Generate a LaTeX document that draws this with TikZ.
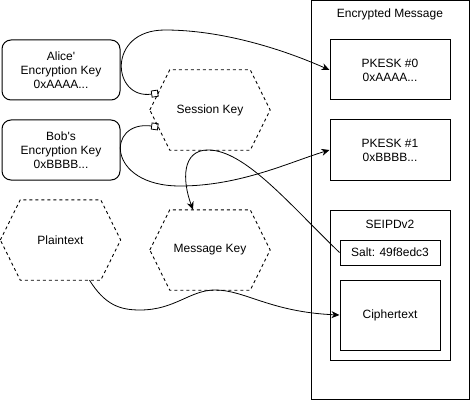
\documentclass[tikz,border=0pt]{standalone}
\usepackage{fontspec}
\setmainfont{Liberation Sans}
\usepackage{xcolor}
\usepackage{tikz}
\usetikzlibrary{positioning, arrows.meta, calc}
\definecolor{ink}{HTML}{000000}
\definecolor{paper}{HTML}{FFFFFF}
\tikzset{
  keybox/.style   = {rectangle, rounded corners=9pt, draw=ink, line width=1pt,
                     fill=paper, minimum width=118pt, minimum height=60pt,
                     align=center, font=\fontsize{12}{14}\selectfont},
  hexnode/.style  = {rectangle, minimum width=120pt, minimum height=80pt,
                     inner sep=0pt, align=center, font=\fontsize{12}{14}\selectfont},
  hexline/.style  = {draw=ink, line width=0.9pt, dash pattern=on 3pt off 3pt},
  pkt/.style      = {rectangle, draw=ink, line width=1pt, inner sep=0pt,
                     align=center, font=\fontsize{12}{14}\selectfont},
  boxtitle/.style = {inner sep=0pt, font=\fontsize{12}{14}\selectfont},
  ar/.style       = {-{Stealth[length=8pt,width=7pt,inset=2.5pt]}, line width=0.8pt, draw=ink},
  portar/.style   = {{Square[open,length=7pt,width=7pt]}-{Stealth[length=8pt,width=7pt,inset=2.5pt]},
                     line width=0.8pt, draw=ink},
}
\begin{document}
\begin{tikzpicture}[x=1pt, y=-1pt]
  \useasboundingbox (0,0) rectangle (471,401);

  \node[keybox] (alice) at (61,70) {Alice\textquotesingle\\Encryption Key\\0xAAAA...};
  \node[keybox] (bob) at (61,150) {Bob\textquotesingle s\\Encryption Key\\0xBBBB...};
  \node[hexnode] (sk) at (210,110) {Session Key};
  \node[hexnode] (pt) at (60.5,240) {Plaintext};
  \node[hexnode] (mk) at (210,250) {Message Key};
  \foreach \n in {sk, pt, mk}
    \draw[hexline] (\n.west) -- ([xshift=20pt]\n.north west) -- ([xshift=-20pt]\n.north east)
      -- (\n.east) -- ([xshift=-20pt]\n.south east) -- ([xshift=20pt]\n.south west) -- cycle;

  \node[pkt, minimum width=158pt, minimum height=399pt] (msg) at (390,200) {};
  \node[boxtitle] (msgtitle) at (390,14) {Encrypted Message};
  \node[pkt, minimum width=120pt, minimum height=60pt] (pk0) at (390,70) {PKESK \#0\\0xAAAA...};
  \node[pkt, minimum width=120pt, minimum height=60pt] (pk1) at (390,150) {PKESK \#1\\0xBBBB...};
  \node[pkt, minimum width=120pt, minimum height=150pt] (seipd) at (390,285) {};
  \node[boxtitle] (seipdtitle) at (390,224) {SEIPDv2};
  \node[pkt, minimum width=100pt, minimum height=25pt] (salt) at (390,252.5) {Salt: 49f8edc3};
  \node[pkt, minimum width=100pt, minimum height=70pt] (ct) at (390,315) {Ciphertext};

  \coordinate (skup) at ($(sk.west)!0.42!([xshift=20pt]sk.north west)$);
  \coordinate (skdown) at ($(sk.west)!0.42!([xshift=20pt]sk.south west)$);

  \draw[portar] (skup) .. controls (112,100) and (106,30) .. (165,30)
    .. controls (220,30) and (280,48) .. (pk0.west);
  \draw[portar] (skdown) .. controls (106,120) and (106,186) .. (180,186)
    .. controls (240,186) and (290,162) .. (pk1.west);
  \draw[ar] (salt.west) .. controls (290,205) and (245,150) .. (208,150)
    .. controls (182,150) and (182,180) .. ([xshift=-17pt]mk.north);
  \draw[ar] ([xshift=29pt]pt.south) .. controls (105,305) and (120,310) .. (140,310)
    .. controls (175,310) and (190,290) .. (215,290)
    .. controls (245,290) and (270,312) .. (ct.west);

\end{tikzpicture}
\end{document}
